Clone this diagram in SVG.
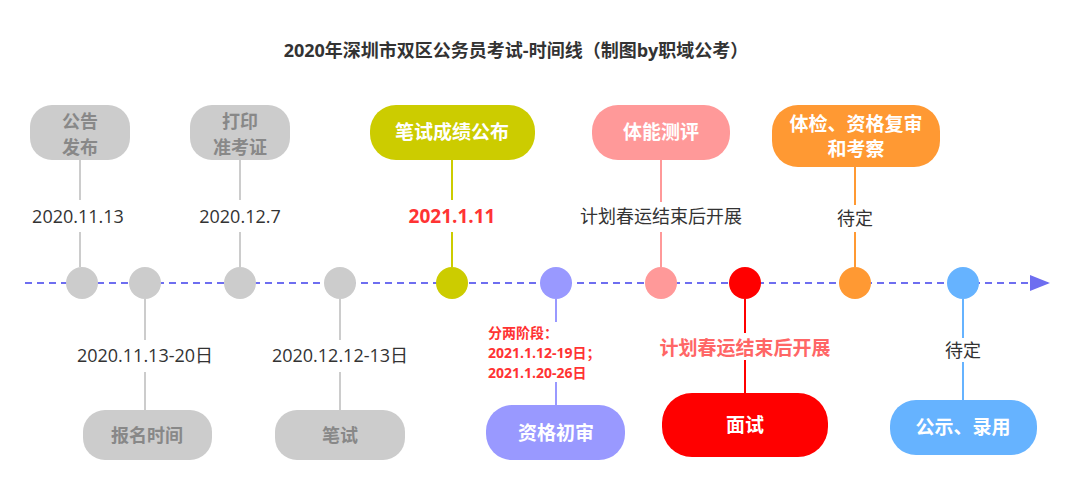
<svg xmlns="http://www.w3.org/2000/svg" width="1074" height="485" viewBox="0 0 1074 485">
<style>
text{font-family:"Open Sans","Noto Sans CJK SC",sans-serif;text-anchor:middle}
.nt{font-size:19px;font-weight:bold;fill:#fff}
.gt{font-size:18px;font-weight:bold;fill:#888}
.lb{font-size:18px;fill:#333}
.ln{stroke-width:2;fill:none}
</style>
<defs><marker id="ar" markerWidth="10" markerHeight="8" refX="9" refY="4" orient="auto"><path d="M0,0 L10,4 L0,8 z" fill="#6e6ef0"/></marker></defs>
<rect width="1074" height="485" fill="#fff"/>
<text x="516" y="57" style="font-size:18px;font-weight:bold;fill:#333">2020年深圳市双区公务员考试-时间线（制图by职域公考）</text>
<g id="connectors">
<line x1="25" y1="283" x2="1048" y2="283" stroke="#6e6ef0" stroke-width="2" stroke-dasharray="7,5" marker-end="url(#ar)"/>
<path class="ln" stroke="#ccc" d="M80,160V200M80,232V267M240,160V200M240,232V267M145,299V340M145,372V410M340,299V340M340,372V410"/>
<path class="ln" stroke="#CCCC00" d="M452,160V200M452,232V267"/>
<path class="ln" stroke="#FF9999" d="M661,160V202M661,232V267"/>
<path class="ln" stroke="#FF9933" d="M855,167V205M855,232V267"/>
<path class="ln" stroke="#9999FF" d="M556,299V322M556,382V405"/>
<path class="ln" stroke="#f00" d="M745,299V333M745,360V393"/>
<path class="ln" stroke="#66B3FF" d="M963,299V338M963,362V400"/>
</g>
<g id="dots">
<circle cx="82" cy="283" r="16" fill="#ccc"/><circle cx="145" cy="283" r="16" fill="#ccc"/>
<circle cx="240" cy="283" r="16" fill="#ccc"/><circle cx="340" cy="283" r="16" fill="#ccc"/>
<circle cx="452" cy="283" r="16" fill="#CCCC00"/><circle cx="556" cy="283" r="16" fill="#9999FF"/>
<circle cx="661" cy="283" r="16" fill="#FF9999"/><circle cx="745" cy="283" r="16" fill="#f00"/>
<circle cx="855" cy="283" r="16" fill="#FF9933"/><circle cx="963" cy="283" r="16" fill="#66B3FF"/>
</g>
<g id="n1"><rect x="30" y="105" width="100" height="55" rx="22" fill="#ccc"/><text class="gt" x="80" y="128">公告</text><text class="gt" x="80" y="154">发布</text><text class="lb" x="78" y="223">2020.11.13</text></g>
<g id="n2"><rect x="190" y="105" width="100" height="55" rx="22" fill="#ccc"/><text class="gt" x="240" y="128">打印</text><text class="gt" x="240" y="154">准考证</text><text class="lb" x="240" y="223">2020.12.7</text></g>
<g id="n3"><rect x="370" y="105" width="165" height="55" rx="26" fill="#CCCC00"/><text class="nt" x="452" y="139">笔试成绩公布</text><text x="452" y="223" style="font-size:19px;font-weight:bold;fill:#f33">2021.1.11</text></g>
<g id="n4"><rect x="592" y="105" width="138" height="55" rx="26" fill="#FF9999"/><text class="nt" x="661" y="139">体能测评</text><text class="lb" x="661" y="223">计划春运结束后开展</text></g>
<g id="n5"><rect x="772" y="105" width="168" height="62" rx="26" fill="#FF9933"/><text class="nt" x="856" y="131">体检、资格复审</text><text class="nt" x="856" y="156">和考察</text><text class="lb" x="855" y="225">待定</text></g>
<g id="n6"><rect x="83" y="410" width="129" height="50" rx="22" fill="#ccc"/><text class="gt" x="147" y="442">报名时间</text><text class="lb" x="145" y="362">2020.11.13-20日</text></g>
<g id="n7"><rect x="275" y="410" width="130" height="50" rx="22" fill="#ccc"/><text class="gt" x="340" y="442">笔试</text><text class="lb" x="340" y="362">2020.12.12-13日</text></g>
<g id="n8"><rect x="486" y="405" width="139" height="55" rx="26" fill="#9999FF"/><text class="nt" x="556" y="440">资格初审</text>
<g style="font-size:14px;font-weight:bold;fill:#f33"><text x="488" y="338" style="text-anchor:start">分两阶段：</text><text x="488" y="358" style="text-anchor:start">2021.1.12-19日；</text><text x="488" y="378" style="text-anchor:start">2021.1.20-26日</text></g></g>
<g id="n9"><rect x="662" y="393" width="166" height="64" rx="30" fill="#f00"/><text class="nt" x="745" y="432">面试</text><text x="745" y="355" style="font-size:19px;font-weight:bold;fill:#ff6666">计划春运结束后开展</text></g>
<g id="n10"><rect x="890" y="400" width="147" height="55" rx="26" fill="#66B3FF"/><text class="nt" x="963" y="434">公示、录用</text><text class="lb" x="963" y="357">待定</text></g>
</svg>
